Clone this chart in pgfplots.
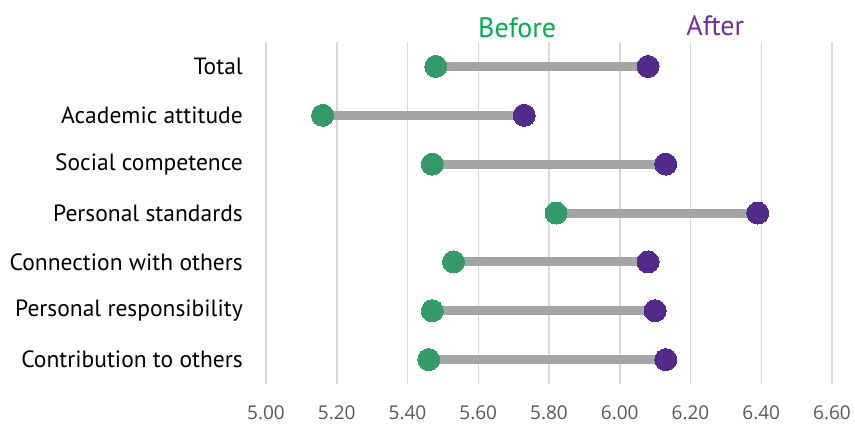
\documentclass[border=0pt]{standalone}
\usepackage{fontspec}
\setmainfont{PT Sans}
\newfontfamily\tickfont{Open Sans}
\usepackage{pgfplots}
\usepackage{pgfplotstable}
\pgfplotsset{compat=1.18}
\definecolor{gridc}{HTML}{D9D9D9}
\definecolor{barc}{HTML}{A5A5A5}
\definecolor{befc}{HTML}{349A67}
\definecolor{aftc}{HTML}{522A8A}
\definecolor{beftxt}{HTML}{00B050}
\definecolor{afttxt}{HTML}{7030A0}
\definecolor{tickc}{HTML}{595959}
\pgfplotstableread{
y before after
1 5.48 6.08
2 5.16 5.73
3 5.47 6.13
4 5.82 6.39
5 5.53 6.08
6 5.47 6.10
7 5.46 6.13
}\data
\begin{document}
\begin{tikzpicture}
\path[use as bounding box] (0,0) rectangle (855bp,425bp);
\begin{axis}[
  at={(266bp,41bp)}, anchor=south west,
  scale only axis, width=566bp, height=342bp,
  xmin=5, xmax=6.6, ymin=0.5, ymax=7.5, y dir=reverse,
  axis line style={draw=none},
  xtick={5,5.2,...,6.6},
  ytick={1,...,7},
  yticklabels={Total,Academic attitude,Social competence,Personal standards,Connection with others,Personal responsibility,Contribution to others},
  major tick length=0pt,
  xmajorgrids, grid style={gridc, line width=1.5bp},
  x tick label style={font=\tickfont\fontsize{19bp}{21bp}\selectfont, text=tickc,
     /pgf/number format/.cd, fixed, fixed zerofill, precision=2, assume math mode=true},
  y tick label style={font=\fontsize{23.5bp}{26bp}\selectfont, text=black, inner sep=0pt, anchor=east},
  yticklabel shift=23bp,
  xticklabel shift=18bp,
  clip=false,
]
\addplot[barc, line width=9bp] coordinates {(5.48,1) (6.08,1)};
\addplot[barc, line width=9bp] coordinates {(5.16,2) (5.73,2)};
\addplot[barc, line width=9bp] coordinates {(5.47,3) (6.13,3)};
\addplot[barc, line width=9bp] coordinates {(5.82,4) (6.39,4)};
\addplot[barc, line width=9bp] coordinates {(5.53,5) (6.08,5)};
\addplot[barc, line width=9bp] coordinates {(5.47,6) (6.10,6)};
\addplot[barc, line width=9bp] coordinates {(5.46,7) (6.13,7)};
\addplot[befc, only marks, mark=*, mark size=11bp, mark options={draw=befc, fill=befc, line width=0pt}] table[x=before, y=y] {\data};
\addplot[aftc, only marks, mark=*, mark size=11bp, mark options={draw=aftc, fill=aftc, line width=0pt}] table[x=after, y=y] {\data};
\node[anchor=base, text=beftxt, font=\fontsize{28bp}{30bp}\selectfont] at (axis cs:5.71,0.5) [yshift=4.7bp] {Before};
\node[anchor=base, text=afttxt, font=\fontsize{28bp}{30bp}\selectfont] at (axis cs:6.27,0.5) [yshift=7bp] {After};
\end{axis}
\end{tikzpicture}
\end{document}
